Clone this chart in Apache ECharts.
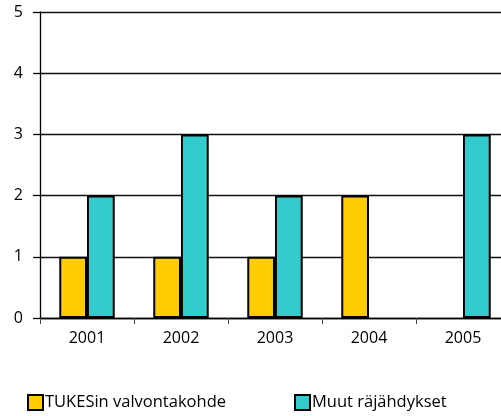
<!DOCTYPE html>
<html>
<head>
<meta charset="utf-8">
<script src="https://cdn.jsdelivr.net/npm/echarts@6/dist/echarts.min.js"></script>
<style>
  html, body { margin: 0; padding: 0; background: #fff; overflow: hidden; }
  #chart { width: 510px; height: 416px; }
</style>
</head>
<body>
<div id="chart"></div>
<script>
var years = ['2001', '2002', '2003', '2004', '2005']
var tukes = [1, 1, 1, 2, 0]
var muut = [2, 3, 2, 0, 3]
var names = ['TUKESin valvontakohde', 'Muut räjähdykset']

// zero values are not drawn in the original
function noZero(arr) {
  return arr.map(function (v) { return v === 0 ? '-' : v })
}

var chart = echarts.init(document.getElementById('chart'))
var font = 'Open Sans'
chart.setOption({
  animation: false,
  grid: { left: 40, right: 0, top: 12, bottom: 98 },
  legend: {
    left: 22,
    top: 389,
    itemWidth: 15,
    itemHeight: 15,
    itemGap: 68,
    icon: 'rect',
    itemStyle: { borderColor: '#000', borderWidth: 2 },
    textStyle: { color: '#000', fontSize: 16.5, fontFamily: font, padding: [0, 0, 0, -3] },
    data: names
  },
  xAxis: {
    type: 'category',
    data: years,
    axisLine: { lineStyle: { color: '#000', width: 1.3 } },
    axisTick: { show: true, length: 6, lineStyle: { color: '#444' } },
    axisLabel: { color: '#000', fontSize: 16, fontFamily: font, margin: 12 }
  },
  yAxis: {
    type: 'value',
    min: 0,
    max: 5,
    interval: 1,
    axisLine: { show: true, lineStyle: { color: '#000', width: 1.3 } },
    axisTick: { show: true, length: 7, lineStyle: { color: '#000', width: 1.3 } },
    axisLabel: { color: '#000', fontSize: 16, fontFamily: font, margin: 17 },
    splitLine: { lineStyle: { color: '#111', width: 1.3 } }
  },
  series: [
    {
      name: names[0],
      type: 'bar',
      data: noZero(tukes),
      barGap: '0%',
      barCategoryGap: '41%',
      itemStyle: { color: '#FFCC00', borderColor: '#000', borderWidth: 2 }
    },
    {
      name: names[1],
      type: 'bar',
      data: noZero(muut),
      itemStyle: { color: '#33CCCC', borderColor: '#000', borderWidth: 2 }
    }
  ]
})
</script>
</body>
</html>
